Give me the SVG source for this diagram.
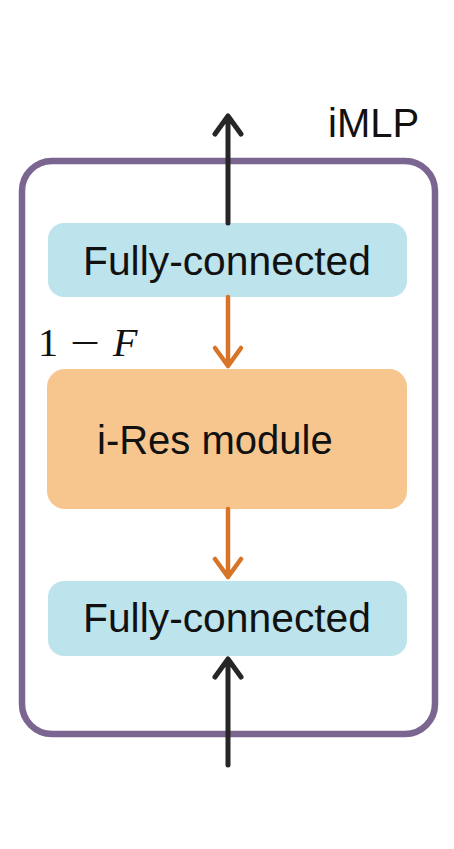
<svg xmlns="http://www.w3.org/2000/svg" width="454" height="849" viewBox="0 0 454 849">
<defs>
<style>
.lbl{font-family:"Liberation Sans",Arial,sans-serif;font-size:40px;fill:#111}
.fc{fill:#BDE3EC}
.blk{stroke:#262626;stroke-width:5;fill:none;stroke-linecap:round;stroke-linejoin:round}
.org{stroke:#D87427;stroke-width:4.5;fill:none;stroke-linecap:round;stroke-linejoin:round}
.math{font-family:"Liberation Serif","Times New Roman",serif;font-size:40px;fill:#111}
</style>
</defs>
<rect width="454" height="849" fill="#ffffff"/>
<g id="iMLP">
<rect x="22" y="161" width="413" height="573" rx="30" fill="none" stroke="#7B6591" stroke-width="6.5"/>
<text class="lbl" x="328" y="137" font-size="38">iMLP</text>
</g>
<g id="fc-top">
<rect class="fc" x="48" y="223" width="359" height="74" rx="16"/>
<text class="lbl" x="227" y="275" text-anchor="middle" textLength="288" lengthAdjust="spacingAndGlyphs">Fully-connected</text>
</g>
<g id="ires">
<rect x="47" y="369" width="360" height="140" rx="18" fill="#F7C68F"/>
<text class="lbl" x="97" y="454">i-Res module</text>
</g>
<g id="fc-bottom">
<rect class="fc" x="48" y="581" width="359" height="75" rx="16"/>
<text class="lbl" x="227" y="632" text-anchor="middle" textLength="288" lengthAdjust="spacingAndGlyphs">Fully-connected</text>
</g>
<g id="label-1mF">
<text class="math" x="38" y="356">1</text>
<text class="math" x="70" y="356" textLength="30" lengthAdjust="spacingAndGlyphs">−</text>
<text class="math" x="113" y="356" font-style="italic">F</text>
</g>
<g id="connectors">
<path class="blk" d="M228 223 V116 M215 134 L228 116 L241 134"/>
<path class="org" d="M228 297 V366 M215 348 L228 366 L241 348"/>
<path class="org" d="M228 509 V577 M215 559 L228 577 L241 559"/>
<path class="blk" d="M228 765 V659 M215 677 L228 659 L241 677"/>
</g>
</svg>
